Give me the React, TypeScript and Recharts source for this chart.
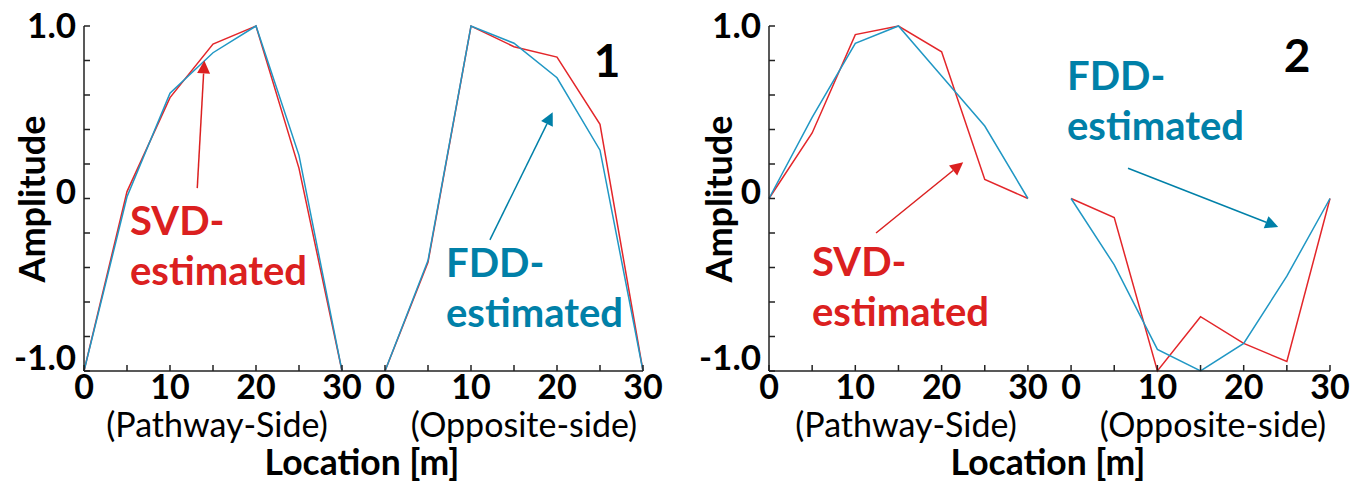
import React from "react";
import { LineChart, Line, XAxis, YAxis, ReferenceLine } from "recharts";

// opposite-side span is drawn after the pathway span on one shared x axis
const GAP = 35;

const locations = [0, 5, 10, 15, 20, 25, 30];

// mode 1
const m1SvdPath = [-1.0, 0.04, 0.585, 0.895, 1.0, 0.175, -1.0];
const m1FddPath = [-1.0, 0.01, 0.61, 0.845, 1.0, 0.25, -1.0];
const m1SvdOpp = [-1.0, -0.37, 1.0, 0.88, 0.82, 0.43, -1.0];
const m1FddOpp = [-1.0, -0.36, 1.0, 0.9, 0.7, 0.28, -1.0];

// mode 2
const m2SvdPath = [0, 0.38, 0.95, 1.0, 0.85, 0.11, 0];
const m2FddPath = [0, 0.47, 0.9, 1.0, 0.71, 0.42, 0];
const m2SvdOpp = [0, -0.11, -1.0, -0.685, -0.84, -0.945, 0];
const m2FddOpp = [0, -0.385, -0.875, -1.0, -0.84, -0.45, 0];

const yTicks = [-1, -0.8, -0.6, -0.4, -0.2, 0, 0.2, 0.4, 0.6, 0.8, 1];
const xTicks = [0, 5, 10, 15, 20, 25, 30, 35, 40, 45, 50, 55, 60, 65];
const yTickText: Record<string, string> = { "-1": "-1.0", "0": "0", "1": "1.0" };
const yTickDy: Record<string, number> = { "-1": -1, "0": 5, "1": 12 };

const RED = "#e3262a";
const BLUE = "#2097c4";
const RED_TEXT = "#db2020";
const BLUE_TEXT = "#0080a8";
const AXIS = "#222";
const FONT = "Lato, 'Open Sans', sans-serif";

function buildRows(svdP: number[], fddP: number[], svdO: number[], fddO: number[]) {
  const rows: Record<string, number>[] = [];
  locations.forEach((loc, i) => rows.push({ x: loc, svdP: svdP[i], fddP: fddP[i] }));
  locations.forEach((loc, i) => rows.push({ x: loc + GAP, svdO: svdO[i], fddO: fddO[i] }));
  return rows;
}

const YTick = (props: any) => {
  const { x, y, payload } = props;
  const key = String(Math.round(payload.value * 10) / 10);
  const label = yTickText[key];
  return (
    <g>
      <line x1={x} y1={y} x2={x + 6} y2={y} stroke={AXIS} strokeWidth={1.5} />
      {label && (
        <text x={x - 8} y={y + yTickDy[key]} textAnchor="end" fontSize={35} fontWeight={700} fill="#000" fontFamily={FONT}>
          {label}
        </text>
      )}
    </g>
  );
};

const XTick = (props: any) => {
  const { x, y, payload } = props;
  const local = payload.value > 30 ? payload.value - GAP : payload.value;
  return (
    <g>
      <line x1={x} y1={y} x2={x} y2={y - 6} stroke={AXIS} strokeWidth={1.5} />
      {local % 10 === 0 && (
        <text x={x} y={y + 28} textAnchor="middle" fontSize={34} fontWeight={700} fill="#000" fontFamily={FONT}>
          {local}
        </text>
      )}
    </g>
  );
};

const Arrow = (props: any) => {
  const { x1, y1, x2, y2, stroke } = props;
  const dx = x2 - x1;
  const dy = y2 - y1;
  const len = Math.hypot(dx, dy) || 1;
  const ux = dx / len;
  const uy = dy / len;
  const head = 13;
  const half = 6.5;
  const bx = x2 - ux * head;
  const by = y2 - uy * head;
  return (
    <g>
      <line x1={x1} y1={y1} x2={bx} y2={by} stroke={stroke} strokeWidth={1.5} />
      <polygon
        points={`${x2},${y2} ${bx - uy * half},${by + ux * half} ${bx + uy * half},${by - ux * half}`}
        fill={stroke}
      />
    </g>
  );
};

type Note = { lines: [string, string]; x: number; y: number; color: string };
type ArrowDef = { from: [number, number]; to: [number, number]; color: string };

type PanelProps = {
  left: number;
  width: number;
  axisWidth: number;
  rightGap: number;
  rows: Record<string, number>[];
  mode: string;
  modeX: number;
  modeY: number;
  notes: Note[];
  arrows: ArrowDef[];
  pathX: number;
  oppX: number;
  locX: number;
  ampX: number;
};

const Panel: React.FC<PanelProps> = (p) => (
  <div style={{ position: "absolute", left: p.left, top: 0 }}>
    <LineChart
      width={p.width}
      height={486}
      data={p.rows}
      margin={{ top: 26, right: p.rightGap, bottom: 0, left: 0 }}
      style={{ fontFamily: FONT }}
    >
      <XAxis
        dataKey="x"
        type="number"
        domain={[0, 65]}
        ticks={xTicks}
        interval={0}
        height={115}
        tickSize={0}
        tickMargin={0}
        tickLine={false}
        tick={<XTick />}
        axisLine={{ stroke: AXIS, strokeWidth: 1.5 }}
      />
      <YAxis
        type="number"
        domain={[-1, 1]}
        ticks={yTicks}
        interval={0}
        width={p.axisWidth}
        tickSize={0}
        tickMargin={0}
        tickLine={false}
        tick={<YTick />}
        axisLine={{ stroke: AXIS, strokeWidth: 1.5 }}
      />
      <Line dataKey="svdP" stroke={RED} strokeWidth={1.5} dot={false} isAnimationActive={false} />
      <Line dataKey="fddP" stroke={BLUE} strokeWidth={1.5} dot={false} isAnimationActive={false} />
      <Line dataKey="svdO" stroke={RED} strokeWidth={1.5} dot={false} isAnimationActive={false} />
      <Line dataKey="fddO" stroke={BLUE} strokeWidth={1.5} dot={false} isAnimationActive={false} />
      {p.arrows.map((a, i) => (
        <ReferenceLine
          key={i}
          segment={[{ x: a.from[0], y: a.from[1] }, { x: a.to[0], y: a.to[1] }]}
          stroke={a.color}
          ifOverflow="visible"
          shape={Arrow}
        />
      ))}
      {p.notes.map((n, i) => (
        <text key={i} fontFamily={FONT} fontSize={40} fontWeight={700} fill={n.color}>
          <tspan x={n.x} y={n.y}>{n.lines[0]}</tspan>
          <tspan x={n.x} y={n.y + 50}>{n.lines[1]}</tspan>
        </text>
      ))}
      <text x={p.modeX} y={p.modeY} textAnchor="middle" fontFamily={FONT} fontSize={46} fontWeight={700} fill="#000">
        {p.mode}
      </text>
      <text x={p.pathX} y={437} textAnchor="middle" fontFamily={FONT} fontSize={34} fill="#000">
        (Pathway-Side)
      </text>
      <text x={p.oppX} y={437} textAnchor="middle" fontFamily={FONT} fontSize={34} fill="#000">
        (Opposite-side)
      </text>
      <text x={p.locX} y={475} textAnchor="middle" fontFamily={FONT} fontSize={35.5} fontWeight={700} fill="#000">
        Location [m]
      </text>
      <text
        x={p.ampX}
        y={199}
        transform={`rotate(-90 ${p.ampX} 199)`}
        textAnchor="middle"
        fontFamily={FONT}
        fontSize={36}
        fontWeight={700}
        fill="#000"
      >
        Amplitude
      </text>
    </LineChart>
  </div>
);

const rows1 = buildRows(m1SvdPath, m1FddPath, m1SvdOpp, m1FddOpp);
const rows2 = buildRows(m2SvdPath, m2FddPath, m2SvdOpp, m2FddOpp);

export default function App() {
  return (
    <div style={{ position: "absolute", left: 0, top: 0, width: 1355, height: 486, background: "#fff", overflow: "hidden" }}>
      <Panel
        left={0}
        width={680}
        axisWidth={84}
        rightGap={37}
        rows={rows1}
        mode="1"
        modeX={607}
        modeY={77}
        notes={[
          { lines: ["SVD-", "estimated"], x: 130, y: 235, color: RED_TEXT },
          { lines: ["FDD-", "estimated"], x: 446, y: 277, color: BLUE_TEXT },
        ]}
        arrows={[
          { from: [13.17, 0.06], to: [13.99, 0.8], color: RED_TEXT },
          { from: [47.2, -0.24], to: [54.5, 0.5], color: BLUE_TEXT },
        ]}
        pathX={217}
        oppX={524}
        locX={362}
        ampX={45}
      />
      <Panel
        left={680}
        width={675}
        axisWidth={89}
        rightGap={25}
        rows={rows2}
        mode="2"
        modeX={617}
        modeY={72}
        notes={[
          { lines: ["SVD-", "estimated"], x: 132, y: 276, color: RED_TEXT },
          { lines: ["FDD-", "estimated"], x: 387, y: 90, color: BLUE_TEXT },
        ]}
        arrows={[
          { from: [12.4, -0.2], to: [22.5, 0.21], color: RED_TEXT },
          { from: [41.6, 0.175], to: [59.0, -0.165], color: BLUE_TEXT },
        ]}
        pathX={226}
        oppX={533}
        locX={368}
        ampX={52}
      />
    </div>
  );
}
